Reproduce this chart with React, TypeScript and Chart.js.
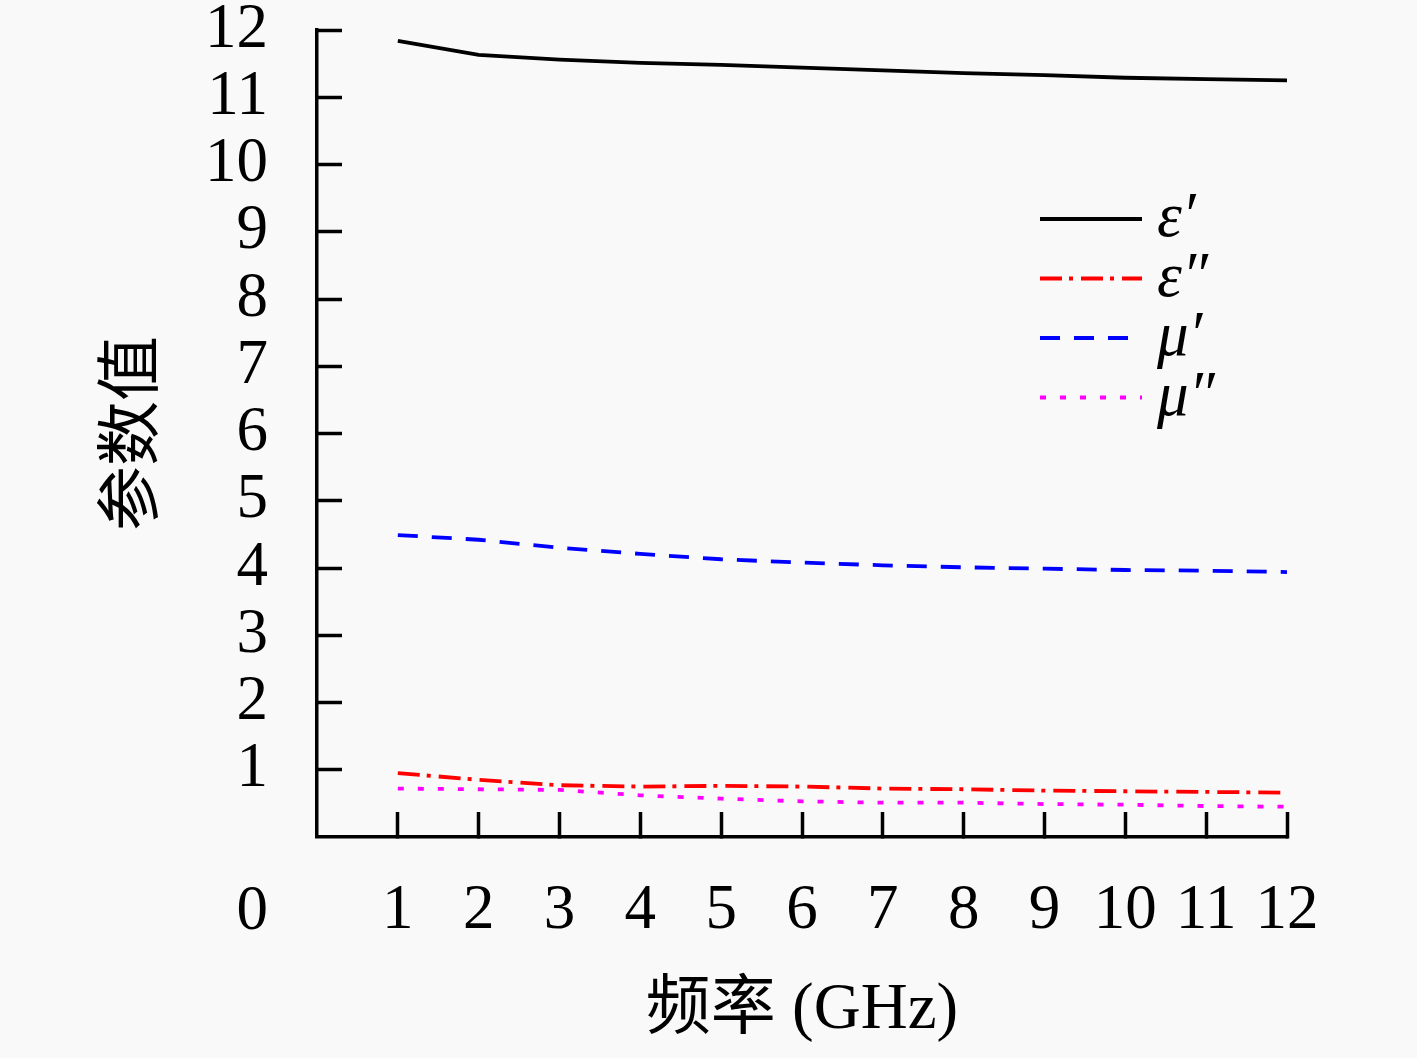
import { useEffect, useRef } from 'react';
import { Chart, registerables } from 'chart.js';

Chart.register(...registerables);

// frequency (GHz)
const frequencies = [1, 2, 3, 4, 5, 6, 7, 8, 9, 10, 11, 12];

// values
const epsReal = [11.84, 11.63, 11.56, 11.51, 11.48, 11.44, 11.4, 11.36, 11.33, 11.29, 11.27, 11.25];
const epsImag = [0.95, 0.85, 0.77, 0.75, 0.76, 0.75, 0.72, 0.71, 0.69, 0.68, 0.67, 0.66];
const muReal = [4.49, 4.42, 4.3, 4.21, 4.13, 4.08, 4.04, 4.01, 3.99, 3.97, 3.96, 3.94];
const muImag = [0.72, 0.71, 0.7, 0.62, 0.57, 0.53, 0.51, 0.51, 0.49, 0.48, 0.46, 0.45];

const seriesLabels = ['ε′', 'ε″', 'μ′', 'μ″'];
const xTitle = '频率 (GHz)';
const yTitle = '参数值';
const axisMin = 0;
const axisMax = 12;

const FONT = "'Liberation Serif', 'Noto Sans CJK SC', serif";

const toPoints = (values: number[]) => values.map((y, i) => ({ x: frequencies[i], y }));

// no tick mark at the origin
const tickColor = (c: any) => (c.tick && c.tick.value === axisMin ? 'rgba(0,0,0,0)' : '#000');

// legend drawn inside the plot, right upper part
const insideLegend = {
  id: 'insideLegend',
  afterDraw(chart: any) {
    const { ctx, chartArea } = chart;
    const x0 = chartArea.left + 723;
    const y0 = chartArea.top + 189;
    chart.data.datasets.forEach((ds: any, i: number) => {
      const y = y0 + i * 59.5;
      ctx.save();
      ctx.strokeStyle = ds.borderColor;
      ctx.lineWidth = ds.borderWidth;
      ctx.lineCap = 'butt';
      ctx.setLineDash(ds.borderDash || []);
      ctx.beginPath();
      ctx.moveTo(x0, y);
      ctx.lineTo(x0 + 102, y);
      ctx.stroke();
      ctx.setLineDash([]);
      ctx.fillStyle = '#000';
      ctx.font = `italic 63px ${FONT}`;
      ctx.textAlign = 'left';
      ctx.textBaseline = 'alphabetic';
      ctx.fillText(ds.label, x0 + 117, y + 17);
      ctx.restore();
    });
  },
};

// the "0" of the y axis sits on the row of the x tick labels
const zeroLabel = {
  id: 'zeroLabel',
  afterDraw(chart: any) {
    const { ctx, chartArea, scales } = chart;
    ctx.save();
    ctx.fillStyle = '#000';
    ctx.font = `63px ${FONT}`;
    ctx.textAlign = 'right';
    ctx.textBaseline = 'middle';
    ctx.fillText(String(axisMin), scales.y.right - 49, chartArea.bottom + 75);
    ctx.restore();
  },
};

const App = () => {
  const canvasRef = useRef<HTMLCanvasElement>(null);

  useEffect(() => {
    document.body.style.margin = '0';
    document.body.style.background = '#f9f9f9';
    if (!canvasRef.current) return;

    const chart = new Chart(canvasRef.current, {
      type: 'line',
      data: {
        datasets: [
          {
            label: seriesLabels[0],
            data: toPoints(epsReal),
            borderColor: '#000000',
            borderWidth: 3.8,
            borderDash: [],
          },
          {
            label: seriesLabels[1],
            data: toPoints(epsImag),
            borderColor: '#ff0000',
            borderWidth: 3.8,
            borderDash: [22, 7, 4, 8],
          },
          {
            label: seriesLabels[2],
            data: toPoints(muReal),
            borderColor: '#0000ff',
            borderWidth: 3.8,
            borderDash: [20, 14],
          },
          {
            label: seriesLabels[3],
            data: toPoints(muImag),
            borderColor: '#ff00ff',
            borderWidth: 3.8,
            borderDash: [6, 14],
          },
        ],
      },
      options: {
        animation: false,
        responsive: true,
        maintainAspectRatio: false,
        layout: { padding: { left: 0, top: 30, right: 130, bottom: 0 } },
        elements: {
          point: { radius: 0 },
          line: { tension: 0, fill: false, borderCapStyle: 'butt' },
        },
        plugins: {
          legend: { display: false },
          tooltip: { enabled: false },
        },
        scales: {
          x: {
            type: 'linear',
            min: axisMin,
            max: axisMax,
            afterFit: (scale: any) => {
              scale.height = 221;
              scale.paddingLeft = 0;
              scale.paddingRight = 0;
            },
            ticks: {
              stepSize: 1,
              autoSkip: false,
              maxRotation: 0,
              padding: 62,
              color: '#000',
              font: { family: FONT, size: 63 },
              callback: (v: any) => (v === axisMin ? '' : String(v)),
            },
            grid: {
              drawOnChartArea: false,
              drawTicks: true,
              tickLength: -25,
              tickWidth: 3.5,
              tickColor,
            },
            border: { display: true, color: '#000', width: 3.5 },
            title: {
              display: true,
              text: xTitle,
              color: '#000',
              font: { family: FONT, size: 65 },
              padding: { top: 0, bottom: 8 },
            },
          },
          y: {
            type: 'linear',
            min: axisMin,
            max: axisMax,
            afterFit: (scale: any) => {
              scale.width = 317;
              scale.paddingTop = 0;
              scale.paddingBottom = 0;
            },
            ticks: {
              stepSize: 1,
              autoSkip: false,
              padding: 74,
              color: '#000',
              font: { family: FONT, size: 63 },
              callback: (v: any) => (v === axisMin ? '' : String(v)),
            },
            grid: {
              drawOnChartArea: false,
              drawTicks: true,
              tickLength: -25,
              tickWidth: 3.5,
              tickColor,
            },
            border: { display: true, color: '#000', width: 3.5 },
            title: {
              display: true,
              text: yTitle,
              color: '#000',
              font: { family: FONT, size: 65 },
              padding: { top: 96, bottom: 0 },
            },
          },
        },
      },
      plugins: [insideLegend, zeroLabel],
    });

    return () => {
      chart.destroy();
    };
  }, []);

  return (
    <div style={{ width: 1417, height: 1058, position: 'relative' }}>
      <canvas ref={canvasRef} />
    </div>
  );
};

export default App;
